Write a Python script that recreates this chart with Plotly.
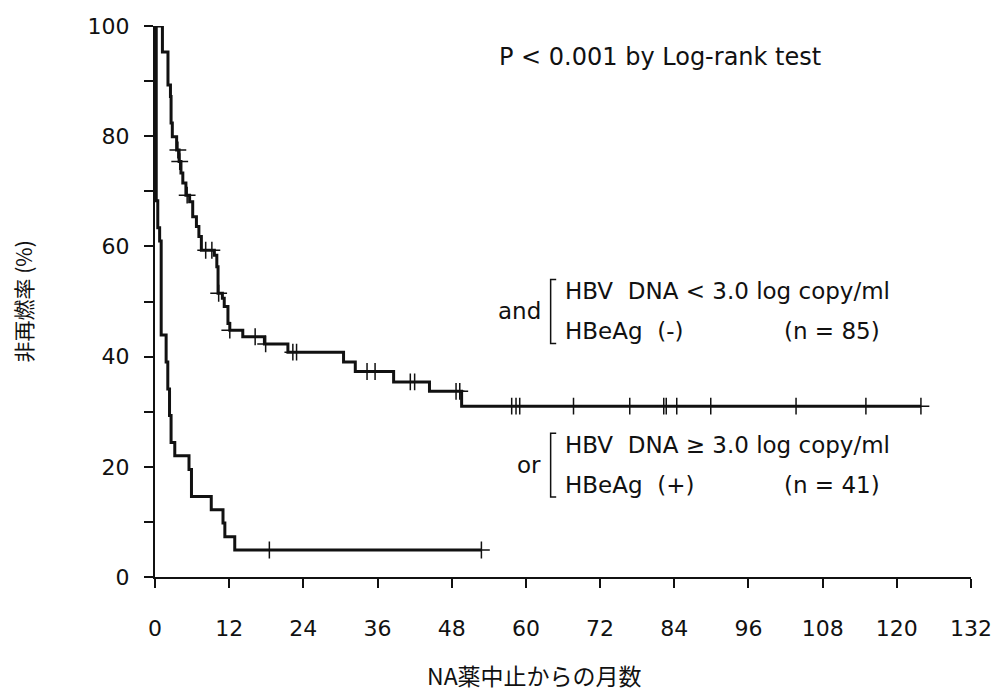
import plotly.graph_objects as go

# ---- data ----
upper_time = [0, 1.2, 2.1, 2.5, 2.6, 2.8, 3.5, 3.9, 4.2, 4.5, 5.0, 5.6, 6.1, 6.7, 7.1, 7.5,
              9.6, 10.0, 10.2, 10.9, 11.2, 11.8, 12.1, 14.2, 17.7, 21.5, 30.5, 32.4, 38.6,
              44.4, 49.6, 123.9]
upper_surv = [100, 95.3, 89.3, 87.2, 82.4, 79.9, 77.5, 75.4, 73.3, 71.5, 69.3, 68.1, 65.4,
              63.6, 61.8, 59.3, 58.4, 56.3, 51.5, 50.6, 49.1, 46.0, 44.8, 43.6, 42.3, 40.8,
              39.0, 37.3, 35.4, 33.7, 31.0, 31.0]
upper_cens_time = [3.7, 4.0, 5.2, 8.2, 9.2, 10.3, 12.1, 16.2, 17.9, 22.3, 22.9, 34.3, 35.6,
                   41.3, 42.0, 48.7, 49.3, 57.7, 58.4, 59.0, 67.7, 76.8, 82.3, 82.7, 84.4,
                   89.9, 103.7, 115.0, 123.9]
upper_cens_surv = [77.5, 75.4, 69.3, 59.3, 59.3, 51.5, 44.8, 43.6, 42.3, 40.8, 40.8, 37.3,
                   37.3, 35.4, 35.4, 33.7, 33.7, 31.0, 31.0, 31.0, 31.0, 31.0, 31.0, 31.0,
                   31.0, 31.0, 31.0, 31.0, 31.0]

lower_time = [0, 0.2, 0.45, 0.75, 1.0, 1.8, 2.07, 2.35, 2.6, 3.2, 5.5, 5.9, 9.1, 11.0,
              11.3, 12.9, 52.8]
lower_surv = [100, 68.3, 63.4, 61.0, 43.9, 39.0, 34.1, 29.3, 24.4, 22.0, 19.5, 14.6, 12.2,
              9.8, 7.3, 4.9, 4.9]
lower_cens_time = [18.5, 52.8]
lower_cens_surv = [4.9, 4.9]

x_ticks = [0, 12, 24, 36, 48, 60, 72, 84, 96, 108, 120, 132]
y_ticks = [0, 20, 40, 60, 80, 100]

LAT = "DejaVu Sans, Liberation Sans, sans-serif"
CJK = "Noto Sans CJK JP"
INK = "#111111"

fig = go.Figure()
for t, s in [(upper_time, upper_surv), (lower_time, lower_surv)]:
    fig.add_trace(go.Scatter(x=t, y=s, mode="lines", line=dict(color=INK, width=3, shape="hv"),
                             showlegend=False, hoverinfo="skip"))
for t, s in [(upper_cens_time, upper_cens_surv), (lower_cens_time, lower_cens_surv)]:
    fig.add_trace(go.Scatter(x=t, y=s, mode="markers",
                             marker=dict(symbol="cross-thin", size=12,
                                         line=dict(color=INK, width=1.5)),
                             showlegend=False, hoverinfo="skip", cliponaxis=False))

txt = dict(family=LAT, size=23, color=INK)
ann = [
    dict(x=55.4, y=94.4, text="P < 0.001 by Log-rank test", xanchor="left",
         font=dict(family=LAT, size=24, color=INK)),
    dict(x=62.8, y=48.2, text="and", xanchor="right"),
    dict(x=66.0, y=51.9, text="HBV  DNA < 3.0 log copy/ml", xanchor="left"),
    dict(x=66.0, y=44.6, text="HBeAg  (-)", xanchor="left"),
    dict(x=101.5, y=44.6, text="(n = 85)", xanchor="left"),
    dict(x=62.8, y=20.35, text="or", xanchor="right"),
    dict(x=66.0, y=24.0, text="HBV  DNA \u2265 3.0 log copy/ml", xanchor="left"),
    dict(x=66.0, y=16.7, text="HBeAg  (+)", xanchor="left"),
    dict(x=101.5, y=16.7, text="(n = 41)", xanchor="left"),
]
for a in ann:
    a.setdefault("font", txt)
    fig.add_annotation(xref="x", yref="y", showarrow=False, yanchor="middle", **a)

# brackets
for top, bot in [(54.0, 42.4), (26.1, 14.5)]:
    fig.add_shape(type="path", xref="x", yref="y",
                  path=f"M 64.9 {top} L 64.0 {top} L 64.0 {bot} L 64.9 {bot}",
                  line=dict(color=INK, width=1.5))

# axis titles
fig.add_annotation(xref="paper", yref="paper", x=0.465, y=0, yshift=-98, showarrow=False,
                   text="NA薬中止からの月数", font=dict(family=CJK, size=23, color=INK),
                   xanchor="center", yanchor="middle")
fig.add_annotation(xref="paper", yref="paper", x=0, y=0.5, xshift=-133, showarrow=False,
                   text="非再燃率 (%)", textangle=-90,
                   font=dict(family=CJK, size=21, color=INK),
                   xanchor="center", yanchor="middle")

fig.update_layout(
    width=1003, height=692,
    margin=dict(l=155, r=32, t=26, b=115),
    paper_bgcolor="white", plot_bgcolor="white",
    xaxis=dict(range=[0, 132], tickvals=x_ticks, ticktext=[str(v) for v in x_ticks],
               showline=True, linecolor=INK, linewidth=2, ticks="outside", ticklen=9,
               tickwidth=2, tickcolor=INK, showgrid=False, zeroline=False,
               tickfont=dict(family=LAT, size=22, color=INK), ticklabelstandoff=22),
    yaxis=dict(range=[0, 100], tickvals=y_ticks, ticktext=[str(v) for v in y_ticks],
               showline=True, linecolor=INK, linewidth=2, ticks="outside", ticklen=9,
               tickwidth=2, tickcolor=INK, showgrid=False, zeroline=False,
               tickfont=dict(family=LAT, size=22, color=INK), ticklabelstandoff=10,
               minor=dict(dtick=10, tick0=0, ticks="outside", ticklen=9, tickwidth=2,
                          tickcolor=INK, showgrid=False)),
)

fig.write_html("out.html")
